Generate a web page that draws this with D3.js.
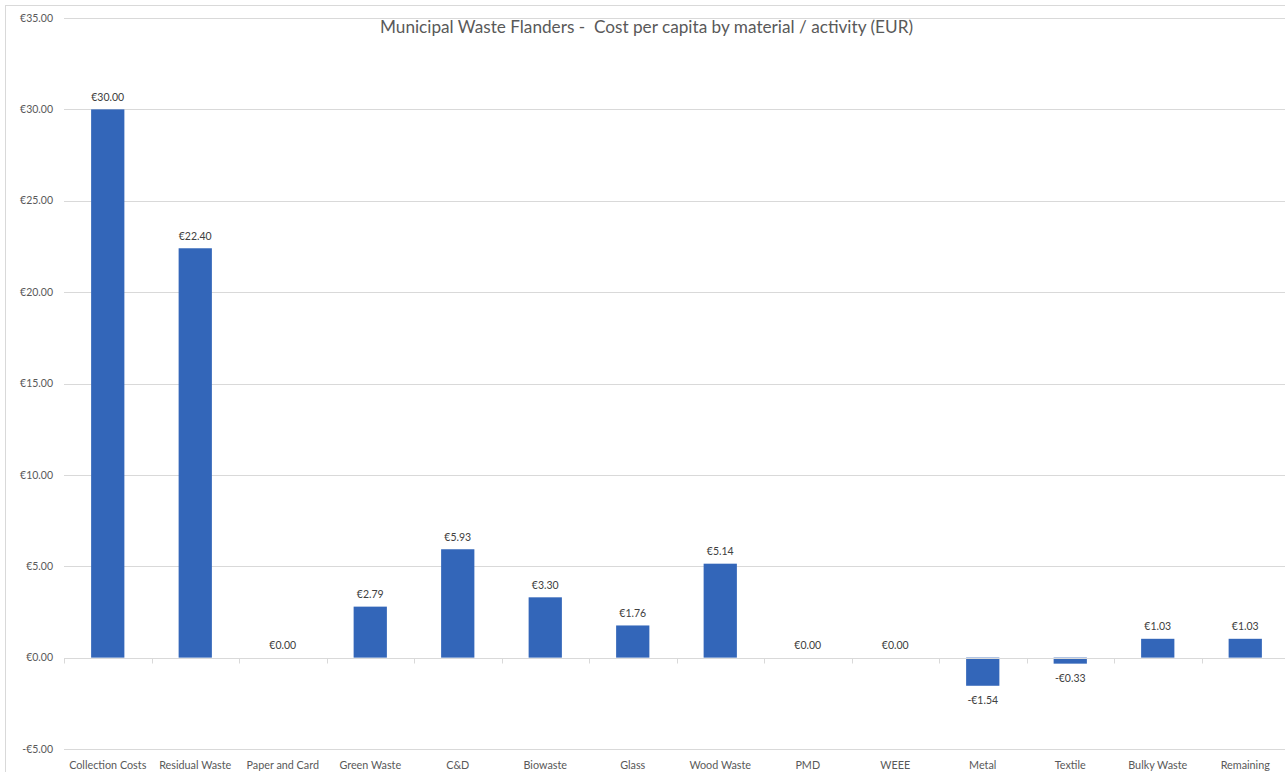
<!DOCTYPE html>
<html><head><meta charset="utf-8">
<script src="https://cdn.jsdelivr.net/npm/d3@7"></script>
<style>body{margin:0;background:#fff}svg{display:block}</style>
</head><body>
<script>
const categories = ["Collection Costs","Residual Waste","Paper and Card","Green Waste","C&D","Biowaste","Glass","Wood Waste","PMD","WEEE","Metal","Textile","Bulky Waste","Remaining"];
const values = [30.00,22.40,0.00,2.79,5.93,3.30,1.76,5.14,0.00,0.00,-1.54,-0.33,1.03,1.03];
const yTicks = [-5,0,5,10,15,20,25,30,35];
const title = "Municipal Waste Flanders -  Cost per capita by material / activity (EUR)";

const W = 1285, H = 772;
const font = "Lato, 'Liberation Sans', sans-serif";
const txt = "#595959";
const svg = d3.select("body").append("svg").attr("width", W).attr("height", H);

svg.append("rect").attr("x",5.5).attr("y",5.5).attr("width",W).attr("height",H)
  .attr("fill","none").attr("stroke","#d9d9d9");

const x = d3.scaleBand().domain(categories).range([64, 1289]).paddingInner(0.62).paddingOuter(0.31);
const y = d3.scaleLinear().domain([-5,35]).range([749, 18]);
const fmt = v => (v < 0 ? "-€" : "€") + Math.abs(v).toFixed(2);

// gridlines
svg.append("g").selectAll("line").data(yTicks.filter(d=>d!==0)).join("line")
  .attr("x1",64).attr("x2",W).attr("y1",d=>Math.round(y(d))+0.5).attr("y2",d=>Math.round(y(d))+0.5)
  .attr("stroke","#d9d9d9").attr("stroke-width",1);

// y labels
svg.append("g").selectAll("text").data(yTicks).join("text")
  .attr("x",53).attr("y",d=>y(d)).attr("dy","0.35em").attr("text-anchor","end")
  .attr("font-family",font).attr("font-size",10.5).attr("fill",txt).text(fmt);

// bars
svg.append("g").selectAll("rect").data(values).join("rect")
  .attr("x",(d,i)=>x(categories[i]))
  .attr("width",x.bandwidth())
  .attr("y",d=>y(Math.max(0,d)))
  .attr("height",d=>Math.abs(y(d)-y(0)))
  .attr("fill","#3366b9");

// zero axis
const z = Math.round(y(0))+0.5;
svg.append("line").attr("x1",64).attr("x2",W).attr("y1",z).attr("y2",z).attr("stroke","#d9d9d9");
const step = x.step();
svg.append("g").selectAll("line").data(d3.range(categories.length+1)).join("line")
  .attr("x1",i=>Math.round(64+i*step)+0.5).attr("x2",i=>Math.round(64+i*step)+0.5)
  .attr("y1",z).attr("y2",z+5).attr("stroke","#d9d9d9");

// value labels
svg.append("g").selectAll("text").data(values).join("text")
  .attr("x",(d,i)=>x(categories[i])+x.bandwidth()/2)
  .attr("y",d=> d<0 ? y(d)+15 : y(d)-12)
  .attr("dy","0.35em").attr("text-anchor","middle")
  .attr("font-family",font).attr("font-size",10.5).attr("fill","#404040").text(fmt);

// category labels
svg.append("g").selectAll("text").data(categories).join("text")
  .attr("x",d=>x(d)+x.bandwidth()/2).attr("y",765).attr("dy","0.35em").attr("text-anchor","middle")
  .attr("font-family",font).attr("font-size",10.8).attr("fill",txt).text(d=>d);

svg.append("text").attr("x",646.5).attr("y",27).attr("dy","0.35em").attr("text-anchor","middle")
  .attr("xml:space","preserve").style("white-space","pre")
  .attr("font-family",font).attr("font-size",17.2).attr("fill",txt).text(title);
</script>
</body></html>
